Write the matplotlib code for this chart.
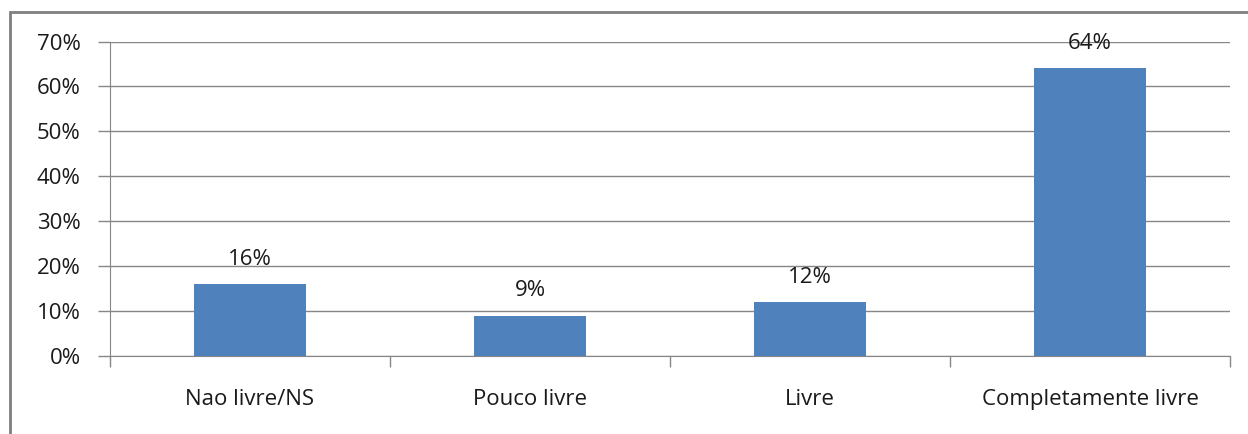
import matplotlib
matplotlib.use("Agg")
import matplotlib.pyplot as plt
from matplotlib.patches import Rectangle

categories = ["Nao livre/NS", "Pouco livre", "Livre", "Completamente livre"]
values = [16, 9, 12, 64]
y_ticks = [0, 10, 20, 30, 40, 50, 60, 70]
y_tick_labels = [f"{v}%" for v in y_ticks]

plt.rcParams["font.family"] = ["Open Sans", "DejaVu Sans"]

fig = plt.figure(figsize=(12.48, 4.34), dpi=100)
ax = fig.add_axes([110 / 1248, 1 - 356 / 434, 1120 / 1248, (356 - 41.5) / 434])

grid_color = "#868686"
bar_color = "#4F81BD"
text_color = "#1a1a1a"
fs = 16

x = list(range(len(categories)))
ax.bar(x, values, width=0.4, color=bar_color, zorder=3)

ax.set_xlim(-0.5, len(categories) - 0.5)
ax.set_ylim(0, 70)
ax.set_yticks(y_ticks)
ax.set_yticklabels(y_tick_labels, fontsize=fs, color=text_color)
ax.yaxis.grid(True, color=grid_color, linewidth=1)
ax.set_axisbelow(True)

# category boundaries carry the x tick marks; labels sit at the centres
ax.set_xticks([i - 0.5 for i in range(len(categories) + 1)])
ax.set_xticklabels([])
ax.set_xticks(x, minor=True)
ax.set_xticklabels(categories, minor=True, fontsize=fs, color=text_color)
ax.tick_params(axis="x", which="major", length=8, color=grid_color, width=1, direction="out")
ax.tick_params(axis="x", which="minor", length=0, pad=24)
ax.tick_params(axis="y", length=9, color=grid_color, width=1, direction="out", pad=12)

for side in ["top", "right"]:
    ax.spines[side].set_visible(False)
ax.spines["left"].set_color(grid_color)
ax.spines["bottom"].set_color(grid_color)

for xi, v in zip(x, values):
    ax.annotate(f"{v}%", (xi, v), xytext=(0, 10.5), textcoords="offset points",
                ha="center", va="bottom", fontsize=fs, color=text_color)

# outer chart frame
fig.patches.append(Rectangle((9.5 / 1248, -0.05), 1.2, 1 - 11.5 / 434 + 0.05,
                             transform=fig.transFigure, fill=False,
                             edgecolor="#7f7f7f", linewidth=2))

fig.savefig("out.png", dpi=100)
